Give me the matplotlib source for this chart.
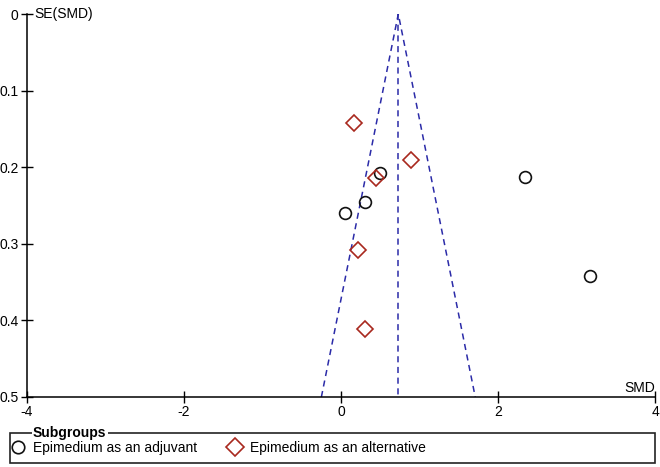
import matplotlib
matplotlib.use("Agg")
import matplotlib.pyplot as plt
from matplotlib.lines import Line2D
from matplotlib.patches import Rectangle
import numpy as np

plt.rcParams['font.family'] = ['Liberation Sans', 'DejaVu Sans']

# Data
adj_smd = [0.50, 0.31, 0.05, 2.34, 3.17]
adj_se = [0.208, 0.246, 0.260, 0.213, 0.342]
alt_smd = [0.17, 0.89, 0.45, 0.22, 0.31]
alt_se = [0.142, 0.191, 0.214, 0.308, 0.411]
pooled_smd = 0.73
se_max = 0.5
xticks = [-4, -2, 0, 2, 4]
yticks = [0, 0.1, 0.2, 0.3, 0.4, 0.5]
labels = ["Epimedium as an adjuvant", "Epimedium as an alternative"]

W, H = 660, 467
fig = plt.figure(figsize=(W/100, H/100), dpi=100)
ax = fig.add_axes([27/W, 1-397/H, (655-27)/W, (397-14)/H])
ax.set_xlim(-4, 4)
ax.set_ylim(0.5, 0)

funnel_c = '#2b2ba8'
ax.plot([pooled_smd - 1.96*se_max, pooled_smd, pooled_smd + 1.96*se_max], [se_max, 0, se_max],
        ls=(0, (4, 3)), color=funnel_c, lw=1.1)
ax.plot([pooled_smd, pooled_smd], [0, se_max], ls=(0, (4, 3)), color=funnel_c, lw=1.1)

ax.plot(adj_smd, adj_se, 'o', mfc='none', mec='#111111', ms=8.5, mew=1.2, ls='none')
ax.plot(alt_smd, alt_se, 'D', mfc='none', mec='#a8281e', ms=8, mew=1.2, ls='none')

for s in ['top', 'right']:
    ax.spines[s].set_visible(False)
ax.spines['left'].set_linewidth(1.1)
ax.spines['bottom'].set_linewidth(1.1)
ax.set_xticks(xticks)
ax.set_xticklabels([str(v) for v in xticks])
ax.set_yticks(yticks)
ax.set_yticklabels(['0', '0.1', '0.2', '0.3', '0.4', '0.5'])
ax.tick_params(direction='inout', length=8, width=1, labelsize=10, pad=2)

ax.text(0.012, 1.0, 'SE(SMD)', transform=ax.transAxes, fontsize=10, va='center', ha='left')
ax.text(1.0, 0.005, 'SMD', transform=ax.transAxes, fontsize=10, va='bottom', ha='right')

# Legend box
bx0, bx1, by_top, by_bot = 10, 655, 433, 463
fig.add_artist(Rectangle((bx0/W, 1-by_bot/H), (bx1-bx0)/W, (by_bot-by_top)/H,
                         transform=fig.transFigure, fill=False, ec='#222222', lw=1.2))
fig.text(33/W, 1-by_top/H, 'Subgroups', fontsize=10, fontweight='bold', va='center', ha='left',
         bbox=dict(facecolor='white', edgecolor='none', pad=1))
handles = [Line2D([], [], marker='o', mfc='none', mec='#111111', ms=9, mew=1.2, ls='none'),
           Line2D([], [], marker='D', mfc='none', mec='#a8281e', ms=9, mew=1.2, ls='none')]
fig.legend(handles, labels, loc='center left', bbox_to_anchor=(10/W, 1-448/H), ncol=2,
           frameon=False, handletextpad=0.45, columnspacing=2.15, borderaxespad=0, borderpad=0,
           handlelength=1.2, fontsize=10)

fig.savefig('out.png', dpi=100)
